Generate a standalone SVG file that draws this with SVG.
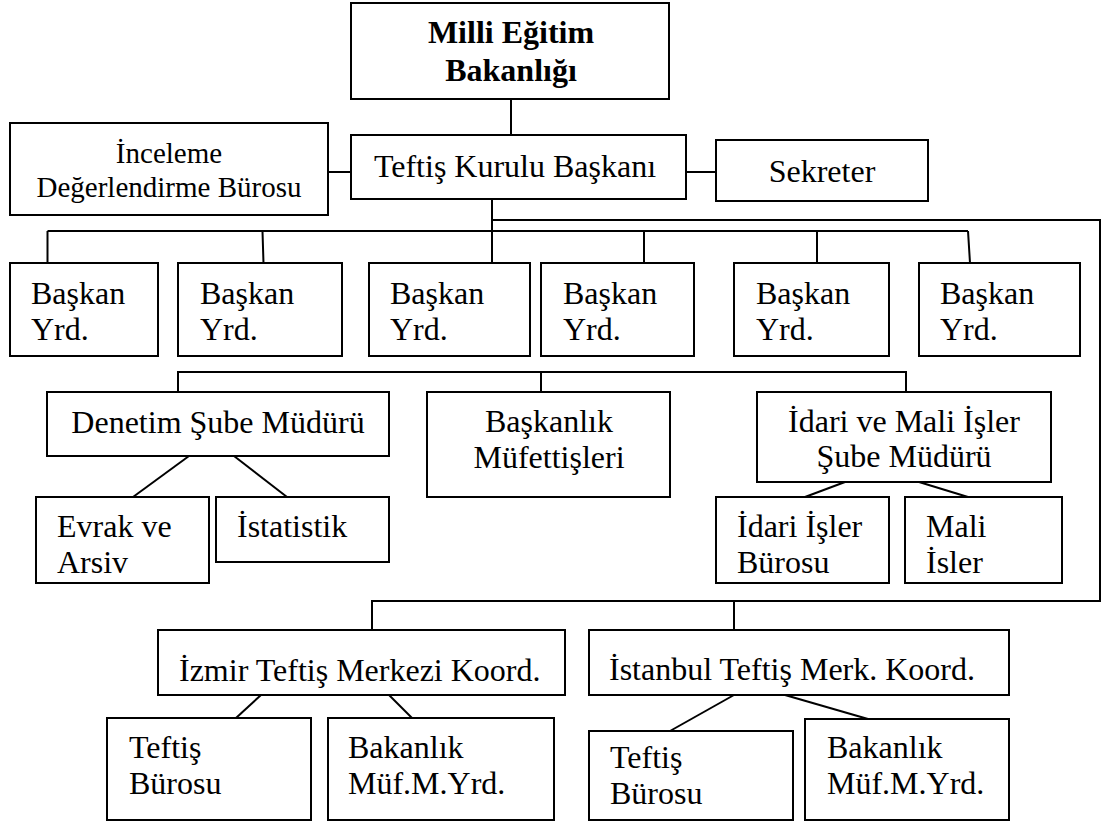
<svg xmlns="http://www.w3.org/2000/svg" width="1106" height="823" viewBox="0 0 1106 823">
<style>
rect{fill:#fff;stroke:#000;stroke-width:2}
.c line,.c polyline{stroke:#000;stroke-width:2;fill:none}
text{font-family:"Liberation Serif","Times New Roman",serif;font-size:32px;fill:#000}
.m{text-anchor:middle}
.b{font-weight:bold}
.s{font-size:29px}
</style>
<rect x="0" y="0" width="1106" height="823" style="stroke:none;fill:#fff"/>
<g class="c" id="connectors">
<line x1="511" y1="99" x2="511" y2="135"/>
<line x1="328" y1="172" x2="351" y2="172"/>
<line x1="686" y1="172" x2="716" y2="172"/>
<line x1="492" y1="199" x2="492" y2="263"/>
<polyline points="492,220 1100,220 1100,601 372,601 372,630"/>
<line x1="734" y1="601" x2="734" y2="630"/>
<line x1="47.5" y1="231" x2="968" y2="231"/>
<line x1="47.5" y1="231" x2="47.5" y2="263"/>
<line x1="262.5" y1="231" x2="263.5" y2="263"/>
<line x1="644" y1="231" x2="644" y2="263"/>
<line x1="817" y1="231" x2="817" y2="263"/>
<line x1="968" y1="231" x2="970" y2="263"/>
<polyline points="178,392 178,372 906,372 906,392"/>
<line x1="541" y1="372" x2="541" y2="392"/>
<line x1="189" y1="456" x2="133" y2="497"/>
<line x1="234" y1="456" x2="287" y2="497"/>
<line x1="845" y1="482" x2="805" y2="497"/>
<line x1="919" y1="482" x2="968" y2="497"/>
<line x1="261" y1="695" x2="236" y2="718"/>
<line x1="389" y1="695" x2="412" y2="718"/>
<line x1="734" y1="695" x2="670" y2="731"/>
<line x1="785" y1="695" x2="868" y2="719"/>
</g>
<g id="n-meb"><rect x="351" y="3" width="318" height="96"/><text class="m b" x="511" y="43">Milli Eğitim</text><text class="m b" x="511" y="81">Bakanlığı</text></g>
<g id="n-baskan"><rect x="351" y="135" width="335" height="64"/><text class="m" x="515" y="177">Teftiş Kurulu Başkanı</text></g>
<g id="n-inceleme"><rect x="10" y="123" width="318" height="92"/><text class="m s" x="169" y="163">İnceleme</text><text class="m s" x="169" y="197">Değerlendirme Bürosu</text></g>
<g id="n-sekreter"><rect x="716" y="140" width="212" height="61"/><text class="m" x="822" y="182">Sekreter</text></g>
<g id="n-yrd1"><rect x="10" y="263" width="148" height="93"/><text x="31" y="304">Başkan</text><text x="31" y="340">Yrd.</text></g>
<g id="n-yrd2"><rect x="178" y="263" width="164" height="93"/><text x="200" y="304">Başkan</text><text x="200" y="340">Yrd.</text></g>
<g id="n-yrd3"><rect x="369" y="263" width="161" height="93"/><text x="390" y="304">Başkan</text><text x="390" y="340">Yrd.</text></g>
<g id="n-yrd4"><rect x="541" y="263" width="153" height="93"/><text x="563" y="304">Başkan</text><text x="563" y="340">Yrd.</text></g>
<g id="n-yrd5"><rect x="734" y="263" width="155" height="93"/><text x="756" y="304">Başkan</text><text x="756" y="340">Yrd.</text></g>
<g id="n-yrd6"><rect x="919" y="263" width="161" height="93"/><text x="940" y="304">Başkan</text><text x="940" y="340">Yrd.</text></g>
<g id="n-denetim"><rect x="47" y="392" width="342" height="64"/><text class="m" x="218" y="433">Denetim Şube Müdürü</text></g>
<g id="n-mufettis"><rect x="427" y="392" width="243" height="105"/><text class="m" x="549" y="432">Başkanlık</text><text class="m" x="549" y="468">Müfettişleri</text></g>
<g id="n-idari"><rect x="757" y="392" width="294" height="90"/><text class="m" x="904" y="432">İdari ve Mali İşler</text><text class="m" x="904" y="467">Şube Müdürü</text></g>
<g id="n-evrak"><rect x="36" y="497" width="173" height="86"/><text x="57" y="537">Evrak ve</text><text x="57" y="573">Arsiv</text></g>
<g id="n-istatistik"><rect x="216" y="497" width="173" height="65"/><text x="237" y="537">İstatistik</text></g>
<g id="n-idariisler"><rect x="716" y="497" width="173" height="86"/><text x="737" y="537">İdari İşler</text><text x="737" y="573">Bürosu</text></g>
<g id="n-mali"><rect x="905" y="497" width="157" height="86"/><text x="926" y="537">Mali</text><text x="926" y="573">İsler</text></g>
<g id="n-izmir"><rect x="158" y="630" width="407" height="65"/><text x="179" y="681">İzmir Teftiş Merkezi Koord.</text></g>
<g id="n-istanbul"><rect x="589" y="630" width="420" height="65"/><text x="609" y="680">İstanbul Teftiş Merk. Koord.</text></g>
<g id="n-izmir-buro"><rect x="107" y="718" width="204" height="102"/><text x="129" y="758">Teftiş</text><text x="129" y="794">Bürosu</text></g>
<g id="n-izmir-muf"><rect x="328" y="718" width="226" height="102"/><text x="348" y="758">Bakanlık</text><text x="348" y="794">Müf.M.Yrd.</text></g>
<g id="n-ist-buro"><rect x="589" y="731" width="204" height="89"/><text x="610" y="768">Teftiş</text><text x="610" y="804">Bürosu</text></g>
<g id="n-ist-muf"><rect x="805" y="719" width="204" height="101"/><text x="827" y="758">Bakanlık</text><text x="827" y="794">Müf.M.Yrd.</text></g>
</svg>
